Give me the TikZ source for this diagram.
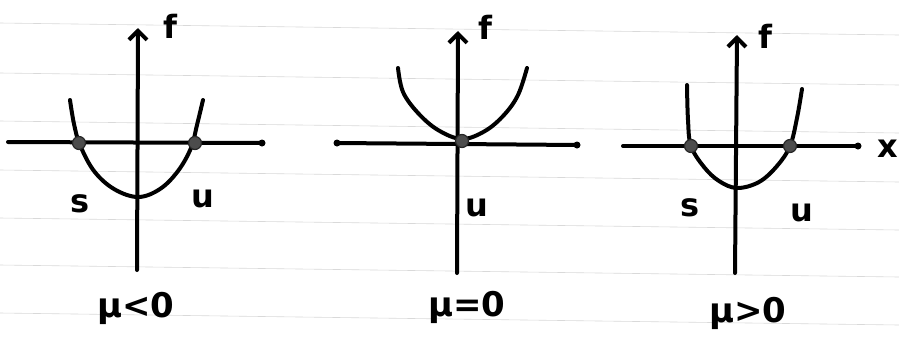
\documentclass[tikz,border=0pt]{standalone}
\usepackage{fontspec}
\setmainfont{DejaVu Sans}
\usetikzlibrary{arrows.meta}
\begin{document}
\begin{tikzpicture}[x=1pt,y=-1pt,
  ink/.style={line width=4pt,line cap=round,line join=round,black},
  axisv/.style={ink,-{Straight Barb[length=9pt,width=18pt,line width=4pt]}},
  rule/.style={gray!30,line width=0.6pt},
  fixpt/.style={circle,fill=black!70,draw=black!85,line width=1.2pt,minimum size=13pt,inner sep=0pt},
  endpt/.style={circle,fill=black,inner sep=0pt,minimum size=7pt},
  lbl/.style={font=\fontsize{32}{36}\selectfont\bfseries,inner sep=0pt},
  mu/.style={font=\fontsize{34}{38}\selectfont\bfseries,inner sep=0pt}]
\useasboundingbox (0,0) rectangle (899,341);
\fill[white] (0,0) rectangle (899,341);
% ruled paper lines
\foreach \yy [count=\i] in {23,73,121,170,218,265,313}{
  \coordinate (rl\i) at (0,\yy);
  \coordinate (rr\i) at (899,\yy+12);
  \draw[rule] (rl\i) -- (rr\i);
}
% ---------- panel 1 : mu<0 ----------
\coordinate (v1b) at (137,270);
\coordinate (v1t) at (138,28);
\coordinate (h1l) at (8,142);
\coordinate (h1r) at (262,143);
\draw[axisv] (v1b) -- (v1t);
\draw[ink] (h1l) -- (h1r);
\node[endpt] (e1) at (h1r) {};
\draw[ink] plot[smooth,tension=0.6] coordinates {(70,100) (74,124) (80,145) (94,171) (114,189) (138,197) (160,189) (178,171) (191,148) (197,125) (203,100)};
\node[fixpt] (s1) at (79,143) {};
\node[fixpt] (u1) at (195,143) {};
\node[lbl] (f1) at (170,26) {f};
\node[lbl] (ls1) at (80,204) {s};
\node[lbl] (lu1) at (203,199) {u};
\node[mu] (m1) at (136,308) {μ<0};
% ---------- panel 2 : mu=0 ----------
\coordinate (v2b) at (457,273);
\coordinate (v2t) at (458,31);
\coordinate (h2l) at (337,143);
\coordinate (h2r) at (577,145);
\draw[axisv] (v2b) -- (v2t);
\draw[ink] (h2l) -- (h2r);
\node[endpt] (e2l) at (h2l) {};
\node[endpt] (e2r) at (h2r) {};
\draw[ink] plot[smooth,tension=0.6] coordinates {(398,68) (403,92) (418,113) (438,130) (462,139) (485,131) (504,115) (518,95) (527,68)};
\node[fixpt] (c2) at (462,141) {};
\node[lbl] (f2) at (485,27) {f};
\node[lbl] (lu2) at (477,208) {u};
\node[mu] (m2) at (467,307) {μ=0};
% ---------- panel 3 : mu>0 ----------
\coordinate (v3b) at (735,273);
\coordinate (v3t) at (737,35);
\coordinate (h3l) at (623,146);
\coordinate (h3r) at (858,146);
\draw[axisv] (v3b) -- (v3t);
\draw[ink] (h3l) -- (h3r);
\node[endpt] (e3) at (h3r) {};
\draw[ink] plot[smooth,tension=0.6] coordinates {(687,85) (688,120) (691,146) (704,167) (719,181) (737,188) (759,182) (777,166) (790,146) (797,118) (802,89)};
\node[fixpt] (s3) at (691,146) {};
\node[fixpt] (u3) at (790,146) {};
\node[lbl] (f3) at (765,36) {f};
\node[lbl] (lx3) at (888,149) {x};
\node[lbl] (ls3) at (690,208) {s};
\node[lbl] (lu3) at (802,213) {u};
\node[mu] (m3) at (748,313) {μ>0};
\end{tikzpicture}
\end{document}
